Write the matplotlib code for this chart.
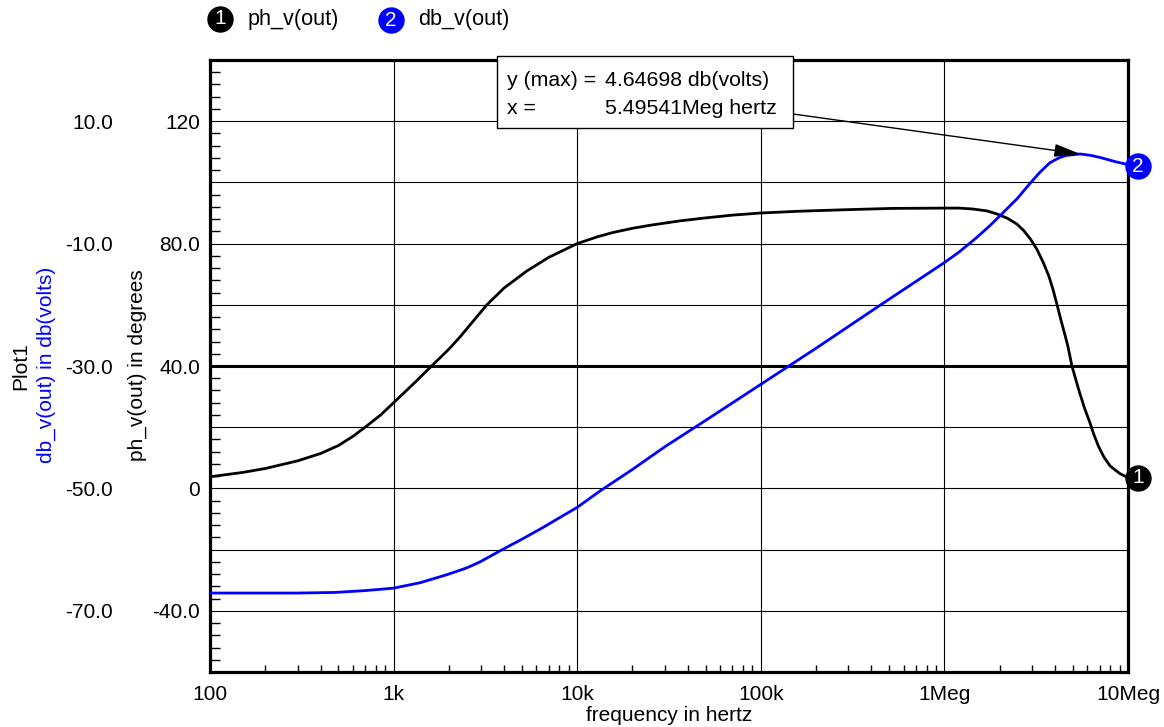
"""
AC sweep plot: phase and gain of v(out)
"""

import matplotlib
matplotlib.use("Agg")
import matplotlib.pyplot as plt
from matplotlib.patches import Rectangle
from matplotlib.ticker import FixedLocator, MultipleLocator, LogLocator, NullFormatter
from matplotlib.transforms import offset_copy

plt.rcParams["font.family"] = ["Liberation Sans", "DejaVu Sans"]

# phase
phase_freq = [100, 150, 200, 300, 400, 500, 600, 700, 850, 1000, 1300, 1610, 2000,
              2300, 2700, 3220, 4000, 5300, 7000, 10000, 13000, 15600, 20000,
              25000, 36000, 50000, 70000, 100000, 165000, 300000, 520000,
              1000000, 1200000, 1430000, 1700000, 1930000, 2200000, 2480000,
              2700000, 2940000, 3200000, 3450000, 3700000, 3900000, 4100000,
              4300000, 4500000, 4700000, 4950000, 5200000, 5450000, 5800000,
              6200000, 6500000, 6900000, 7400000, 8000000, 9000000, 10000000]
phase_deg = [3.8, 5.2, 6.5, 9.0, 11.4, 14.0, 17.0, 20.0, 24.0, 28.0, 34.5, 40.0, 45.5,
             49.5, 54.5, 60.0, 65.5, 71.0, 75.5, 80.0, 82.3, 83.6, 85.0,
             86.0, 87.4, 88.4, 89.3, 90.0, 90.6, 91.1, 91.5,
             91.6, 91.6, 91.3, 90.7, 89.7, 88.3, 86.4,
             84.3, 81.5, 78.0, 73.9, 69.5, 65.1, 60.2,
             55.3, 50.9, 46.6, 40.0, 35.5, 31.3, 26.2,
             21.5, 17.8, 13.8, 10.2, 7.3, 4.9, 3.5]

# gain in dB
db_freq = [100, 300, 480, 700, 1000, 1400, 1950, 2500, 2960, 3400, 3800, 5000,
           6500, 8000, 10000, 13200, 20000, 30000, 50000, 100000, 200000, 450000,
           1000000, 1200000, 1500000, 1750000, 2000000, 2500000, 2900000,
           3300000, 3750000, 4200000, 4600000, 5495410, 6300000, 7100000,
           8500000, 9700000, 10000000]
db_val = [-67.1, -67.1, -67.0, -66.7, -66.3, -65.4, -64.1, -63.0, -62.0, -61.0,
          -60.2, -58.3, -56.4, -54.8, -53.1, -50.5, -46.9, -43.2, -38.9, -33.0,
          -27.1, -20.0, -13.1, -11.4, -9.0, -7.2, -5.5, -2.6, -0.3,
          1.6, 3.2, 4.0, 4.4, 4.64698, 4.4, 4.05,
          3.4, 3.0, 2.96]

deg_ticks = [-40, -20, 0, 20, 40, 60, 80, 100, 120]
deg_labels = ["-40.0", "", "0", "", "40.0", "", "80.0", "", "120"]
db_ticks = [-70, -50, -30, -10, 10]
db_labels = ["-70.0", "-50.0", "-30.0", "-10.0", "10.0"]
freq_ticks = [100, 1000, 10000, 100000, 1000000, 10000000]
freq_labels = ["100", "1k", "10k", "100k", "1Meg", "10Meg"]

peak_x = 5.49541e6
peak_y = 4.64698

W, H = 1164, 727
FS = 15
FS_BIG = 15.6
FS_BOX = 15.3

fig = plt.figure(figsize=(W / 100, H / 100), dpi=100)
ax = fig.add_axes([210 / W, 1 - 672 / H, 918 / W, 612 / H])

ax.set_xscale("log")
ax.set_xlim(100, 1e7)
ax.set_ylim(-60, 140)

ax.xaxis.set_major_locator(FixedLocator(freq_ticks))
ax.set_xticklabels(freq_labels)
ax.xaxis.set_minor_locator(LogLocator(base=10, subs=range(2, 10)))
ax.xaxis.set_minor_formatter(NullFormatter())
ax.set_yticks(deg_ticks)
ax.set_yticklabels(deg_labels)
ax.yaxis.set_minor_locator(MultipleLocator(4))

ax.tick_params(which="major", length=0, labelsize=FS)
ax.tick_params(axis="x", which="major", pad=9)
ax.tick_params(axis="y", which="major", pad=7)
ax.tick_params(which="minor", direction="in", width=1, color="black")
ax.tick_params(axis="x", which="minor", length=5)
ax.tick_params(axis="y", which="minor", length=7)

ax.grid(True, which="major", color="black", lw=0.8)
ax.axhline(40, color="black", lw=2.2, zorder=2)
for s in ax.spines.values():
    s.set_linewidth(2.3)
    s.set_zorder(5)

ax.plot(phase_freq, phase_deg, color="black", lw=2.0, zorder=3)
ax.set_xlabel("frequency in hertz", fontsize=FS, labelpad=2)

ax2 = ax.twinx()
ax2.set_ylim(-80, 20)
ax2.set_yticks(db_ticks)
ax2.set_yticklabels(db_labels)
ax2.yaxis.set_ticks_position("left")
ax2.tick_params(axis="y", length=0, pad=70, labelsize=FS)
for s in ax2.spines.values():
    s.set_visible(False)
ax2.plot(db_freq, db_val, color="#0000ff", lw=2.0, zorder=3)

# end-of-trace markers
off_ph = offset_copy(ax.transData, fig=fig, x=10, y=0, units="dots")
off_db = offset_copy(ax2.transData, fig=fig, x=10, y=-2, units="dots")
ax.plot([phase_freq[-1]], [phase_deg[-1]], "o", ms=18, color="black",
        transform=off_ph, clip_on=False, zorder=6)
ax.text(phase_freq[-1], phase_deg[-1], "1", color="white", fontsize=FS,
        ha="center", va="center", transform=off_ph, clip_on=False, zorder=7)
ax2.plot([db_freq[-1]], [db_val[-1]], "o", ms=18, color="#0000ff",
         transform=off_db, clip_on=False, zorder=6)
ax2.text(db_freq[-1], db_val[-1], "2", color="white", fontsize=FS,
         ha="center", va="center", transform=off_db, clip_on=False, zorder=7)

# y axis titles
fig.text(21 / W, 1 - 366 / H, "Plot1", rotation=90, fontsize=FS,
         ha="center", va="center")
fig.text(46 / W, 1 - 365 / H, "db_v(out) in db(volts)", rotation=90,
         fontsize=FS, color="#0000ff", ha="center", va="center")
fig.text(137 / W, 1 - 365 / H, "ph_v(out) in degrees", rotation=90,
         fontsize=FS, ha="center", va="center")

# legend on top
fig.lines.append(plt.Line2D([220 / W], [1 - 19 / H], marker="o", ms=18,
                            color="black", transform=fig.transFigure))
fig.text(220 / W, 1 - 19 / H, "1", color="white", fontsize=FS,
         ha="center", va="center")
fig.text(248 / W, 1 - 19 / H, "ph_v(out)", fontsize=FS_BIG, ha="left", va="center")
fig.lines.append(plt.Line2D([391 / W], [1 - 20 / H], marker="o", ms=18,
                            color="#0000ff", transform=fig.transFigure))
fig.text(391 / W, 1 - 20 / H, "2", color="white", fontsize=FS,
         ha="center", va="center")
fig.text(418 / W, 1 - 19 / H, "db_v(out)", fontsize=FS_BIG, ha="left", va="center")

# max annotation
box = Rectangle((497 / W, 1 - 128 / H), 296 / W, 72 / H, transform=fig.transFigure,
                facecolor="white", edgecolor="black", lw=1.0, zorder=10)
fig.add_artist(box)
fig.text(507 / W, 1 - 81 / H, "y (max) =", fontsize=FS_BOX, va="center", zorder=11)
fig.text(605 / W, 1 - 81 / H, "4.64698 db(volts)", fontsize=FS_BOX, va="center", zorder=11)
fig.text(507 / W, 1 - 108 / H, "x =", fontsize=FS_BOX, va="center", zorder=11)
fig.text(605 / W, 1 - 108 / H, "5.49541Meg hertz", fontsize=FS_BOX, va="center", zorder=11)
ax2.annotate("", xy=(peak_x, peak_y), xycoords="data",
             xytext=(793, H - 114), textcoords="figure pixels",
             arrowprops=dict(arrowstyle="-|>,head_length=1.6,head_width=0.4",
                             mutation_scale=10, color="black", lw=1.0,
                             shrinkA=0, shrinkB=0),
             annotation_clip=False, zorder=9)

fig.savefig("out.png", dpi=100)
